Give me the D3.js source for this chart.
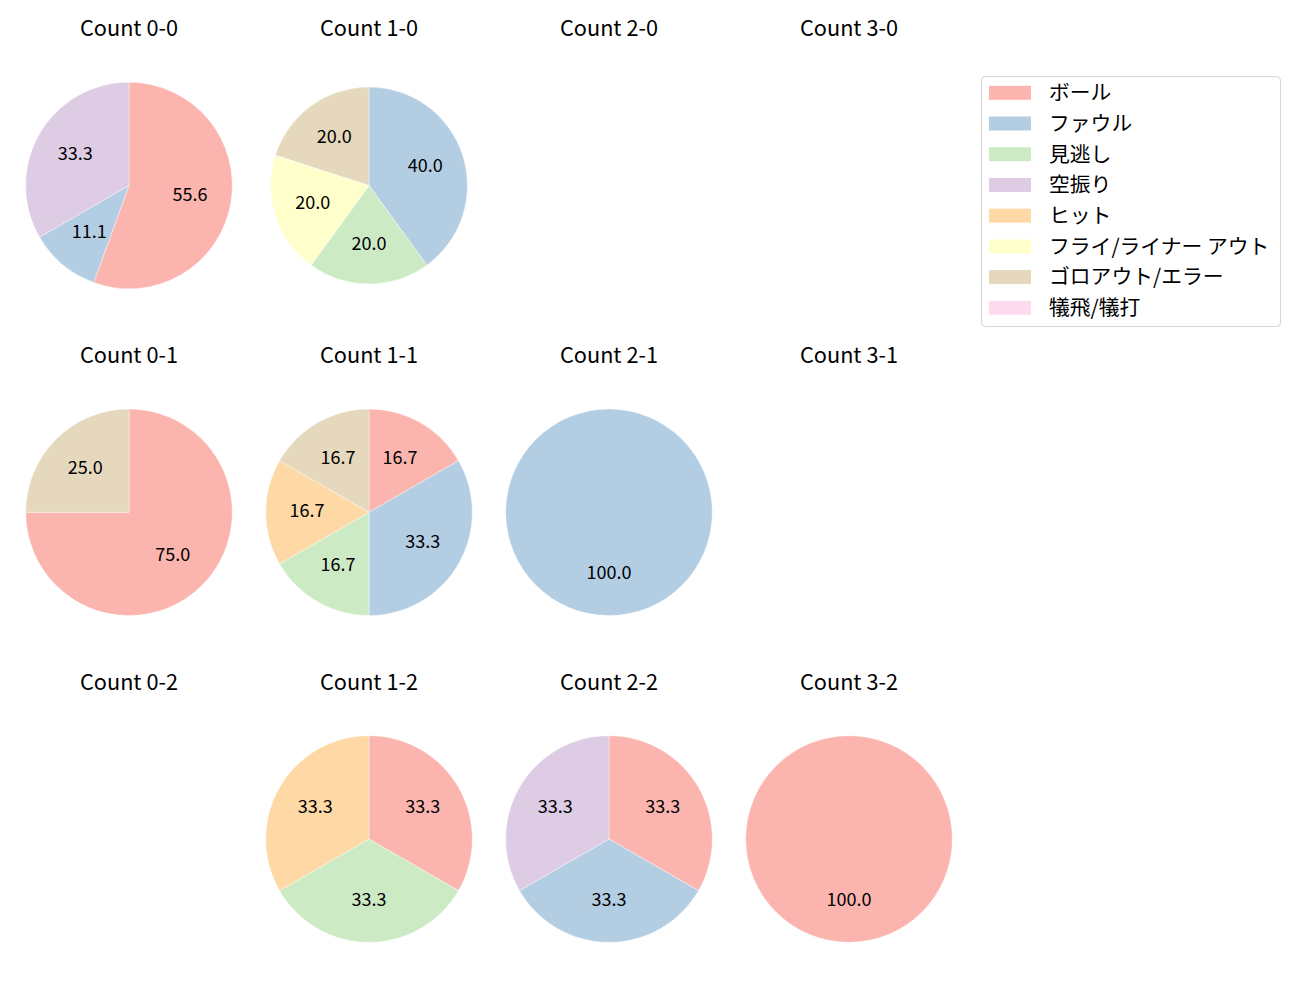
<!DOCTYPE html>
<html>
<head>
<meta charset="utf-8">
<script src="https://cdn.jsdelivr.net/npm/d3@7"></script>
<style>
  body { margin: 0; background: #fff; }
  svg { display: block; font-family: "Noto Sans CJK JP", "Noto Sans", sans-serif; }
</style>
</head>
<body>
<div id="chart"></div>
<script>
// -- Data -------------------------------------------------------
const outcomes = ["ボール", "ファウル", "見逃し", "空振り", "ヒット", "フライ/ライナー アウト", "ゴロアウト/エラー", "犠飛/犠打"];
const colors = ["#fbb4ae", "#b3cde3", "#ccebc5", "#decbe4", "#fed9a6", "#ffffcc", "#e5d8bd", "#fddaec"];

// pitch counts per outcome (same order as outcomes)
const count00 = [5, 1, 0, 3, 0, 0, 0, 0];
const count10 = [0, 2, 1, 0, 0, 1, 1, 0];
const count20 = [];
const count30 = [];
const count01 = [3, 0, 0, 0, 0, 0, 1, 0];
const count11 = [1, 2, 1, 0, 1, 0, 1, 0];
const count21 = [0, 1, 0, 0, 0, 0, 0, 0];
const count31 = [];
const count02 = [];
const count12 = [1, 0, 1, 0, 1, 0, 0, 0];
const count22 = [1, 1, 0, 1, 0, 0, 0, 0];
const count32 = [1, 0, 0, 0, 0, 0, 0, 0];

const panelTitles = ["Count 0-0", "Count 1-0", "Count 2-0", "Count 3-0",
                     "Count 0-1", "Count 1-1", "Count 2-1", "Count 3-1",
                     "Count 0-2", "Count 1-2", "Count 2-2", "Count 3-2"];
const panelValues = [count00, count10, count20, count30,
                     count01, count11, count21, count31,
                     count02, count12, count22, count32];

// -- Layout -----------------------------------------------------
const W = 1300, H = 1000;
const colX = [129, 369, 609, 849];
const rowY = [185.5, 512.3, 839];
const R = 103.3;
const radiusScale = [1, 0.953, 1, 1, 1, 1, 1, 1, 1, 1, 1, 1];

const svg = d3.select("#chart").append("svg")
  .attr("width", W)
  .attr("height", H);

const pie = d3.pie().sort(null).value((d) => d.v);

panelTitles.forEach((title, i) => {
  const cx = colX[i % 4];
  const cy = rowY[Math.floor(i / 4)];
  const r = R * radiusScale[i];

  svg.append("text")
    .attr("x", cx)
    .attr("y", cy - 149.5)
    .attr("text-anchor", "middle")
    .style("font-size", "21.7px")
    .attr("fill", "#000")
    .text(title);

  const vals = panelValues[i]
    .map((v, k) => ({ v, k }))
    .filter((d) => d.v > 0);
  if (!vals.length) return;

  const total = d3.sum(vals, (d) => d.v);
  const arc = d3.arc().innerRadius(0).outerRadius(r);
  const labelArc = d3.arc().innerRadius(r * 0.6).outerRadius(r * 0.6);

  const g = svg.append("g").attr("transform", `translate(${cx},${cy})`);
  const arcs = pie(vals);

  g.selectAll("path")
    .data(arcs)
    .join("path")
    .attr("d", arc)
    .attr("fill", (d) => colors[d.data.k])
    .attr("stroke", "#fff")
    .attr("stroke-width", 0.4);

  g.selectAll("text")
    .data(arcs)
    .join("text")
    .attr("transform", (d) => `translate(${labelArc.centroid(d)})`)
    .attr("text-anchor", "middle")
    .attr("dy", "0.28em")
    .style("font-size", "18px")
    .attr("fill", "#000")
    .text((d) => (d.data.v / total * 100).toFixed(1));
});

// -- Legend -----------------------------------------------------
const legend = svg.append("g");
legend.append("rect")
  .attr("x", 981.5)
  .attr("y", 76.5)
  .attr("width", 299)
  .attr("height", 250)
  .attr("rx", 4)
  .attr("fill", "#fff")
  .attr("stroke", "#d5d5d5")
  .attr("stroke-width", 1);

const rowScale = d3.scaleLinear().domain([0, 7]).range([92.8, 307.8]);

outcomes.forEach((name, i) => {
  const y = rowScale(i);
  legend.append("rect")
    .attr("x", 989)
    .attr("y", y - 7)
    .attr("width", 42)
    .attr("height", 14)
    .attr("fill", colors[i]);
  legend.append("text")
    .attr("x", 1049)
    .attr("y", y)
    .attr("dy", "0.35em")
    .style("font-size", "20.8px")
    .attr("fill", "#000")
    .text(name);
});
</script>
</body>
</html>
